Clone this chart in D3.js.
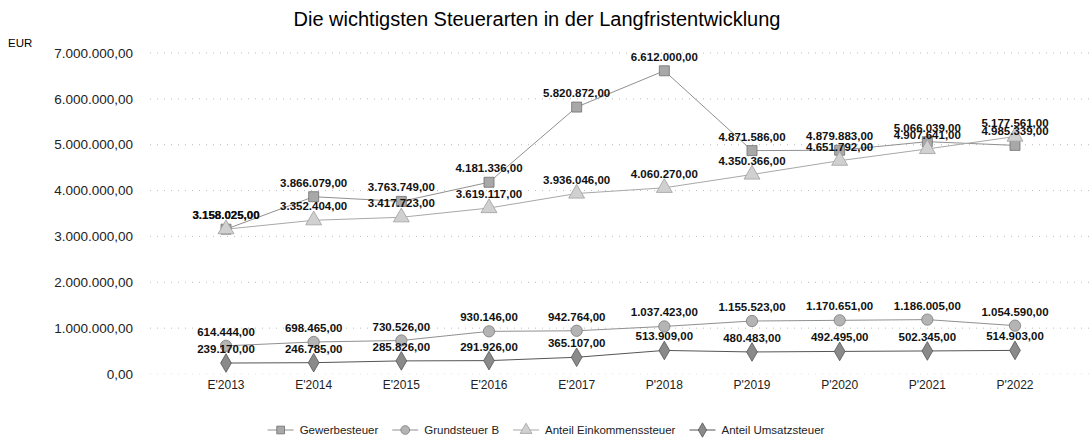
<!DOCTYPE html>
<html>
<head>
<meta charset="utf-8">
<script src="https://cdn.jsdelivr.net/npm/d3@7"></script>
<style>
  body { margin: 0; background: #fff; }
  text { font-family: "Liberation Sans", Arial, sans-serif; }
</style>
</head>
<body>
<div id="chart"></div>
<script>
const categories = ["E'2013", "E'2014", "E'2015", "E'2016", "E'2017", "P'2018", "P'2019", "P'2020", "P'2021", "P'2022"];

const gewerbesteuer = [3158025, 3866079, 3763749, 4181336, 5820872, 6612000, 4871586, 4879883, 5066039, 4985339];
const grundsteuerB = [614444, 698465, 730526, 930146, 942764, 1037423, 1155523, 1170651, 1186005, 1054590];
const einkommenssteuer = [3158025, 3352404, 3417723, 3619117, 3936046, 4060270, 4350366, 4651792, 4907641, 5177561];
const umsatzsteuer = [239170, 246785, 285826, 291926, 365107, 513909, 480483, 492495, 502345, 514903];

const yTicks = [0, 1000000, 2000000, 3000000, 4000000, 5000000, 6000000, 7000000];

const series = [
  { name: "Gewerbesteuer", values: gewerbesteuer, symbol: d3.symbolSquare, line: "#909090", fill: "#a8a8a8", stroke: "#707070" },
  { name: "Grundsteuer B", values: grundsteuerB, symbol: d3.symbolCircle, line: "#909090", fill: "#b4b4b4", stroke: "#7a7a7a" },
  { name: "Anteil Einkommenssteuer", values: einkommenssteuer, symbol: d3.symbolTriangle, line: "#a8a8a8", fill: "#d0d0d0", stroke: "#a0a0a0" },
  { name: "Anteil Umsatzsteuer", values: umsatzsteuer, symbol: d3.symbolDiamond, line: "#555", fill: "#8a8a8a", stroke: "#555" }
];

const W = 1092, H = 440;
const svg = d3.select('#chart').append('svg')
  .attr('width', W)
  .attr('height', H);

const x = d3.scalePoint().domain(categories).range([226, 1015]);
const y = d3.scaleLinear().domain([0, 7000000]).range([374, 53]);

// german number format
const de = d3.formatLocale({ decimal: ",", thousands: ".", grouping: [3], currency: ["", " €"] });
const fmt = de.format(",.2f");

// title
svg.append('text')
  .attr('x', 537).attr('y', 26)
  .attr('text-anchor', 'middle')
  .style('font-size', '20px')
  .text('Die wichtigsten Steuerarten in der Langfristentwicklung');

svg.append('text')
  .attr('x', 8).attr('y', 47)
  .style('font-size', '11.5px')
  .text('EUR');

// grid lines
svg.selectAll('.grid')
  .data(yTicks)
  .enter()
  .append('line')
  .attr('x1', 150).attr('x2', W)
  .attr('y1', d => y(d)).attr('y2', d => y(d))
  .attr('stroke', d => d === 0 ? '#e2e2e2' : '#bcbcbc')
  .attr('stroke-width', 1)
  .attr('stroke-dasharray', '1,6');

// y axis labels
svg.selectAll('.ylab')
  .data(yTicks)
  .enter()
  .append('text')
  .attr('x', 133)
  .attr('y', d => y(d))
  .attr('dy', '0.35em')
  .attr('text-anchor', 'end')
  .style('font-size', '13.5px')
  .style('fill', '#222')
  .text(d => fmt(d));

// x labels
svg.selectAll('.xlab')
  .data(categories)
  .enter()
  .append('text')
  .attr('x', d => x(d))
  .attr('y', 389)
  .attr('text-anchor', 'middle')
  .style('font-size', '12px')
  .style('fill', '#222')
  .text(d => d);

const line = d3.line()
  .x((d, i) => x(categories[i]))
  .y(d => y(d));

// lines
series.forEach(s => {
  svg.append('path')
    .datum(s.values)
    .attr('fill', 'none')
    .attr('stroke', s.line)
    .attr('stroke-width', 1)
    .attr('d', line);
});

// markers
series.forEach(s => {
  svg.selectAll(null)
    .data(s.values)
    .enter()
    .append('path')
    .attr('transform', (d, i) => `translate(${x(categories[i])},${y(d)})`)
    .attr('d', d3.symbol().type(s.symbol).size(s.symbol === d3.symbolTriangle ? 110 : 100))
    .attr('fill', s.fill)
    .attr('stroke', s.stroke)
    .attr('stroke-width', 0.8);
});

// value labels
series.forEach(s => {
  svg.selectAll(null)
    .data(s.values)
    .enter()
    .append('text')
    .attr('x', (d, i) => x(categories[i]))
    .attr('y', d => y(d) - 10)
    .attr('text-anchor', 'middle')
    .style('font-size', '11.5px')
    .style('font-weight', 'bold')
    .style('fill', '#111')
    .text(d => fmt(d));
});

// legend, laid out from the text widths and centred
const legend = svg.append('g');
let lx = 0;
series.forEach(s => {
  const g = legend.append('g').attr('transform', `translate(${lx},0)`);
  g.append('line')
    .attr('x1', 0).attr('x2', 26)
    .attr('stroke', s.line)
    .attr('stroke-width', 1);
  g.append('path')
    .attr('transform', 'translate(13,0)')
    .attr('d', d3.symbol().type(s.symbol).size(60)())
    .attr('fill', s.fill)
    .attr('stroke', s.stroke)
    .attr('stroke-width', 0.8);
  const t = g.append('text')
    .attr('x', 32)
    .attr('dy', '0.35em')
    .style('font-size', '11.5px')
    .style('fill', '#222')
    .text(s.name);
  lx += 32 + t.node().getComputedTextLength() + 14;
});
legend.attr('transform', `translate(${546 - (lx - 14) / 2},430)`);
</script>
</body>
</html>
